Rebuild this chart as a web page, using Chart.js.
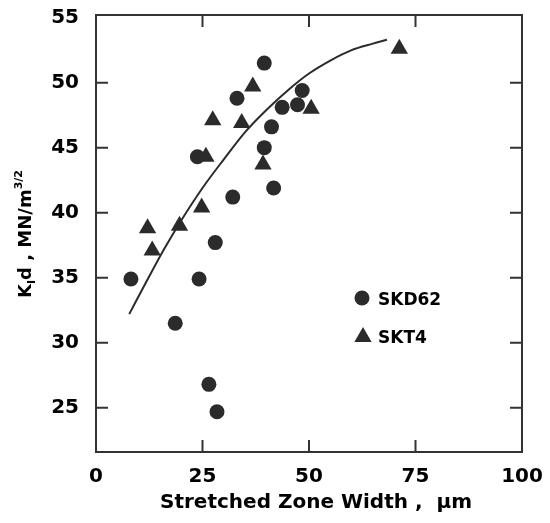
<!DOCTYPE html>
<html>
<head>
<meta charset="utf-8">
<script src="https://cdn.jsdelivr.net/npm/chart.js@4.4.0/dist/chart.umd.min.js"></script>
<style>
  html, body { margin: 0; padding: 0; background: #fff; }
  canvas { display: block; }
</style>
</head>
<body>
<canvas id="chart" width="550" height="523"></canvas>
<script>
// SKD62 (circles): stretched zone width (um) / K_Id (MN/m^3/2)
const skd62X = [39.5, 33.1, 48.4, 43.7, 47.3, 41.2, 39.5, 23.8, 41.7, 32.1, 28.0, 8.2, 24.2, 18.6, 26.5, 28.4]
const skd62Y = [51.5, 48.8, 49.4, 48.1, 48.3, 46.6, 45.0, 44.3, 41.9, 41.2, 37.7, 34.9, 34.9, 31.5, 26.8, 24.7]

// SKT4 (triangles)
const skt4X = [36.8, 27.4, 34.2, 50.5, 25.8, 39.2, 24.8, 12.1, 19.6, 13.2, 71.2]
const skt4Y = [49.7, 47.1, 46.9, 48.0, 44.3, 43.7, 40.4, 38.8, 39.0, 37.1, 52.6]

// fitted curve
const fitX = [7.8, 12, 16, 20, 25, 30, 35, 40, 45, 50, 55, 60, 65, 68.3]
const fitY = [32.2, 34.8, 37.2, 39.4, 41.9, 44.1, 46.2, 47.9, 49.4, 50.7, 51.7, 52.5, 53.0, 53.3]

const xTicks = [0, 25, 50, 75, 100]
const yTicks = [25, 30, 35, 40, 45, 50, 55]

const ink = '#2b2b2b'
const fontFamily = '"DejaVu Sans", sans-serif'

const toPoints = (xs, ys) => xs.map((x, i) => ({ x, y: ys[i] }))

const noPadding = s => {
  s.paddingLeft = 0
  s.paddingRight = 0
  s.paddingTop = 0
  s.paddingBottom = 0
}

// frame, inward ticks on all four sides, axis titles, legend
const decorations = {
  id: 'decorations',
  afterDraw(chart) {
    const { ctx, chartArea: a, scales } = chart
    ctx.save()
    ctx.strokeStyle = '#333'
    ctx.lineWidth = 2
    ctx.strokeRect(a.left, a.top, a.right - a.left, a.bottom - a.top)

    const len = 12
    ctx.beginPath()
    xTicks.forEach(v => {
      const px = scales.x.getPixelForValue(v)
      if (px - a.left < 4 || a.right - px < 4) return
      ctx.moveTo(px, a.bottom); ctx.lineTo(px, a.bottom - len)
      ctx.moveTo(px, a.top); ctx.lineTo(px, a.top + len)
    })
    yTicks.forEach(v => {
      const py = scales.y.getPixelForValue(v)
      if (py - a.top < 4 || a.bottom - py < 4) return
      ctx.moveTo(a.left, py); ctx.lineTo(a.left + len, py)
      ctx.moveTo(a.right, py); ctx.lineTo(a.right - len, py)
    })
    ctx.stroke()

    // x axis title
    ctx.fillStyle = '#000'
    ctx.font = 'bold 20px ' + fontFamily
    ctx.textAlign = 'center'
    ctx.textBaseline = 'alphabetic'
    ctx.fillText('Stretched Zone Width ,  μm', 316, 508)
    ctx.textAlign = 'left'

    // y axis title: K_I d , MN/m^3/2
    ctx.translate(31, 234)
    ctx.rotate(-Math.PI / 2)
    const big = 'bold 18px ' + fontFamily
    const small = 'bold 11px ' + fontFamily
    const parts = [
      { t: 'K', f: big, dy: 0 },
      { t: 'I', f: small, dy: 4 },
      { t: 'd , MN/m', f: big, dy: 0 },
      { t: '3/2', f: small, dy: -9 }
    ]
    let total = 0
    parts.forEach(p => { ctx.font = p.f; p.w = ctx.measureText(p.t).width; total += p.w })
    let x = -total / 2
    parts.forEach(p => { ctx.font = p.f; ctx.fillText(p.t, x, p.dy); x += p.w })
    ctx.restore()

    // legend
    ctx.save()
    ctx.fillStyle = ink
    Chart.helpers.drawPoint(ctx, { pointStyle: 'circle', radius: 7.5, borderWidth: 0 }, 362, 298)
    Chart.helpers.drawPoint(ctx, { pointStyle: 'triangle', radius: 10, borderWidth: 0 }, 363, 337)
    ctx.fillStyle = '#000'
    ctx.font = 'bold 17px ' + fontFamily
    ctx.textBaseline = 'alphabetic'
    ctx.fillText('SKD62', 378, 305)
    ctx.fillText('SKT4', 378, 343)
    ctx.restore()
  }
}

new Chart(document.getElementById('chart'), {
  type: 'scatter',
  data: {
    datasets: [
      {
        label: 'fit',
        type: 'line',
        data: toPoints(fitX, fitY),
        borderColor: ink,
        borderWidth: 2,
        pointRadius: 0,
        cubicInterpolationMode: 'monotone',
        fill: false
      },
      {
        label: 'SKD62',
        data: toPoints(skd62X, skd62Y),
        pointStyle: 'circle',
        pointRadius: 7.5,
        backgroundColor: ink,
        borderWidth: 0
      },
      {
        label: 'SKT4',
        data: toPoints(skt4X, skt4Y),
        pointStyle: 'triangle',
        pointRadius: 10,
        backgroundColor: ink,
        borderWidth: 0
      }
    ]
  },
  options: {
    responsive: false,
    animation: false,
    layout: { padding: { top: 15, right: 28, left: 0, bottom: 0 } },
    plugins: { legend: { display: false }, tooltip: { enabled: false } },
    scales: {
      x: {
        type: 'linear',
        min: 0,
        max: 100,
        afterBuildTicks: s => { s.ticks = xTicks.map(value => ({ value })) },
        afterFit: s => { s.height = 71; noPadding(s) },
        grid: { display: false },
        border: { display: false },
        ticks: {
          color: '#000',
          padding: 5,
          maxRotation: 0,
          font: { family: fontFamily, weight: 'bold', size: 20 }
        }
      },
      y: {
        type: 'linear',
        min: 21.6,
        max: 55.2,
        afterBuildTicks: s => { s.ticks = yTicks.map(value => ({ value })) },
        afterFit: s => { s.width = 96; noPadding(s) },
        grid: { display: false },
        border: { display: false },
        ticks: {
          color: '#000',
          padding: 9,
          font: { family: fontFamily, weight: 'bold', size: 20 }
        }
      }
    }
  },
  plugins: [decorations]
})
</script>
</body>
</html>
